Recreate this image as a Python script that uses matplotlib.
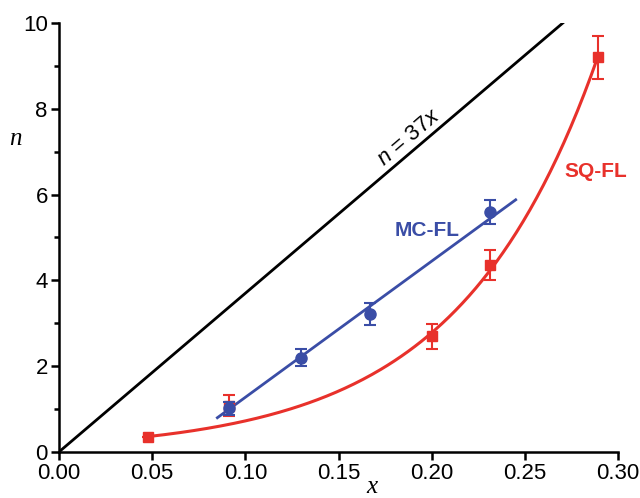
import numpy as np
import matplotlib.pyplot as plt

plt.rcParams['font.family'] = 'Liberation Sans'
plt.rcParams['mathtext.fontset'] = 'custom'
plt.rcParams['mathtext.rm'] = 'Liberation Sans'
plt.rcParams['mathtext.it'] = 'Liberation Sans:italic'

# SQ-FL measurements
sq_x = [0.048, 0.091, 0.200, 0.231, 0.289]
sq_n = [0.36, 1.08, 2.70, 4.35, 9.20]
sq_err = [0.0, 0.25, 0.29, 0.35, 0.50]

# MC-FL measurements
mc_x = [0.091, 0.130, 0.167, 0.231]
mc_n = [1.02, 2.20, 3.22, 5.60]
mc_err = [0.15, 0.20, 0.26, 0.28]

# fitted curves
sq_fit_a, sq_fit_b = 0.36, 13.45      # n = a * exp(b * (x - x0))
mc_fit_slope, mc_fit_icpt = 31.75, -1.90
ref_slope = 37

red = '#e8312b'
blue = '#3a4da6'

fig = plt.figure(figsize=(6.4, 4.98), dpi=100)
ax = fig.add_axes([0.092, 0.0924, 0.874, 0.8614])

# reference line n = 37x
xr = np.linspace(0, 10 / ref_slope, 50)
ax.plot(xr, ref_slope * xr, color='black', lw=2.0, zorder=2)

# SQ-FL exponential fit
xs = np.linspace(sq_x[0], sq_x[-1], 200)
ax.plot(xs, sq_fit_a * np.exp(sq_fit_b * (xs - sq_x[0])), color=red, lw=2.2, zorder=3)

# MC-FL linear fit
xm = np.linspace(0.085, 0.245, 50)
ax.plot(xm, mc_fit_slope * xm + mc_fit_icpt, color=blue, lw=2.0, zorder=3)

ax.errorbar(sq_x, sq_n, yerr=sq_err, fmt='s', color=red, ms=7, capsize=4,
            elinewidth=1.5, capthick=1.5, zorder=4)
ax.errorbar(mc_x, mc_n, yerr=mc_err, fmt='o', color=blue, ms=8, capsize=4,
            elinewidth=1.5, capthick=1.5, zorder=5)

ax.text(0.188, 7.32, r'$n$ = 37$x$', rotation=40.4, ha='center', va='center',
        fontsize=16, rotation_mode='anchor')
ax.text(0.1975, 5.17, 'MC-FL', color=blue, fontsize=15, fontweight='bold',
        ha='center', va='center')
ax.text(0.2877, 6.53, 'SQ-FL', color=red, fontsize=15, fontweight='bold',
        ha='center', va='center')

ax.set_xlim(0, 0.30)
ax.set_ylim(0, 10)
ax.set_xticks(np.arange(0, 0.301, 0.05))
ax.set_xticklabels([f'{v:.2f}' for v in np.arange(0, 0.301, 0.05)])
ax.set_yticks([0, 2, 4, 6, 8, 10])
ax.set_yticks([1, 3, 5, 7, 9], minor=True)

for s in ['top', 'right']:
    ax.spines[s].set_visible(False)
for s in ['left', 'bottom']:
    ax.spines[s].set_linewidth(1.8)
ax.tick_params(which='major', direction='out', length=6, width=1.8, labelsize=16, pad=2)
ax.tick_params(which='minor', direction='out', length=3.5, width=1.8)

ax.set_xlabel('x', fontsize=18, family='Liberation Serif', style='italic', va='center')
ax.set_ylabel('n', fontsize=18, family='Liberation Serif', style='italic', rotation=0,
              va='center')
ax.yaxis.set_label_coords(-0.078, 0.73)
ax.xaxis.set_label_coords(0.56, -0.081)

fig.savefig('out.png', dpi=100)
